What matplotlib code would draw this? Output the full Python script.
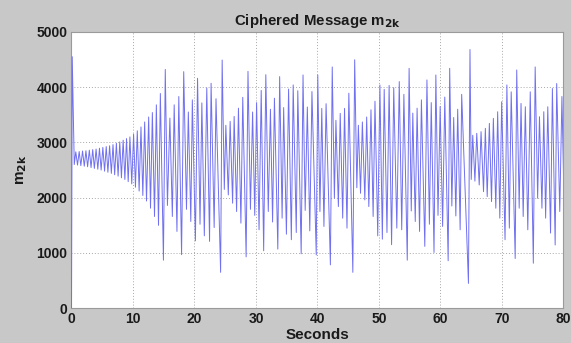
"""Ciphered message m_2k plot, MATLAB-like figure style."""

import matplotlib
matplotlib.use("Agg")
import matplotlib.pyplot as plt
import numpy as np

# ── Colors ─────────────────────────────────────────────────────────
C_FIG = "#c8c8c8"
C_LINE = "#7070f0"
C_GRID = "#a8a8a8"
C_TEXT = "#1a1a1a"

# ── Data (extrema) ─────────────────────────────────────────────────
# start-up transient
start_t = [0.0, 0.12, 0.45]
start_v = [0, 4550, 2600]

peak_t = [0.70, 1.25, 1.80, 2.35, 2.90, 3.45, 4.00, 4.55, 5.10, 5.65, 6.20, 6.75,
          7.30, 7.85, 8.40, 8.95, 9.50, 10.10, 10.70, 11.30, 11.90, 12.55, 13.15,
          13.80, 14.45,
          15.25, 16.00, 16.70, 17.45, 18.25, 19.00, 19.65, 20.50, 21.20, 22.00,
          22.70, 23.50, 24.50, 25.10, 25.80, 26.45, 27.15, 27.85, 28.70, 29.45,
          30.10, 30.85, 31.60, 32.35, 33.00, 33.85, 34.50, 35.30, 36.05, 36.80,
          37.65, 38.35, 39.10, 40.05, 40.70, 41.40, 42.40, 43.00, 43.70, 44.40,
          45.10, 46.05, 46.65, 47.30, 48.00, 48.70, 49.35, 50.15, 50.85, 51.65,
          52.40, 53.30, 54.05, 54.90, 55.50, 56.20, 56.90, 57.80, 58.50, 59.25,
          59.95, 60.70, 61.50, 62.15, 62.80, 63.45, 64.80, 65.25, 65.90, 66.60,
          67.30, 67.95, 68.60, 69.30, 69.95, 70.80, 71.50, 72.40, 73.10, 73.80,
          74.60, 75.40, 76.10, 76.80, 77.45, 78.20, 78.90, 79.75]
peak_v = [2830, 2835, 2845, 2850, 2860, 2870, 2880, 2895, 2910, 2925, 2940, 2960,
          2985, 3010, 3040, 3070, 3100, 3150, 3210, 3280, 3370, 3460, 3540,
          3680, 3885,
          4320, 3440, 3680, 3830, 4280, 3550, 3770, 4160, 3715, 3985,
          4070, 3790, 4490, 3310, 3380, 3470, 3620, 3815, 4285, 3550,
          3720, 3940, 4225, 3600, 3800, 4190, 3630, 3965, 4040, 3935,
          4220, 3640, 3920, 4220, 3615, 3700, 4365, 3400, 3525, 3615,
          3890, 4495, 3310, 3370, 3460, 3590, 3745, 4040, 3960, 4030,
          3990, 4100, 3870, 4340, 3530, 3620, 3770, 4130, 3720, 4220,
          3650, 3820, 4340, 3450, 3600, 3870, 4680, 3130, 3165, 3195,
          3255, 3345, 3435, 3555, 3735, 4040, 3915, 4310, 3705, 3645,
          3915, 4365, 3465, 3555, 3645, 3975, 4065, 3830]

trough_t = [0.98, 1.52, 2.08, 2.62, 3.18, 3.72, 4.28, 4.82, 5.38, 5.92, 6.48, 7.02,
            7.58, 8.12, 8.68, 9.22, 9.80, 10.40, 11.00, 11.60, 12.20, 12.85, 13.50,
            14.15, 14.95,
            15.60, 16.40, 17.15, 17.90, 18.70, 19.40, 20.15, 20.90, 21.60, 22.45,
            23.20, 24.25, 24.85, 25.50, 26.20, 26.85, 27.55, 28.40, 29.10, 29.80,
            30.50, 31.25, 32.00, 32.70, 33.55, 34.25, 34.95, 35.75, 36.55, 37.35,
            38.00, 38.75, 39.80, 40.40, 41.05, 42.10, 42.75, 43.40, 44.10, 44.80,
            45.75, 46.40, 47.00, 47.70, 48.35, 49.05, 49.80, 50.55, 51.30, 52.05,
            52.90, 53.70, 54.60, 55.25, 55.90, 56.60, 57.45, 58.20, 58.95, 59.60,
            60.35, 61.25, 61.85, 62.50, 63.20, 64.55, 65.00, 65.60, 66.30, 67.00,
            67.60, 68.30, 69.00, 69.65, 70.50, 71.20, 72.15, 72.80, 73.45, 74.20,
            75.10, 75.80, 76.50, 77.10, 77.90, 78.65, 79.40, 80.00]
trough_v = [2590, 2580, 2570, 2560, 2545, 2530, 2515, 2500, 2480, 2460, 2440, 2415,
            2390, 2360, 2330, 2290, 2250, 2190, 2120, 2040, 1940, 1810, 1660,
            1500, 870,
            1860, 1660, 1390, 970, 1790, 1570, 1220, 1520, 1310, 1210,
            1460, 650, 2150, 2050, 1900, 1750, 1540, 930, 1790, 1680,
            1420, 1040, 1750, 1560, 1070, 1630, 1340, 1240, 1370, 985,
            1770, 1400, 965, 1750, 1480, 785, 1990, 1840, 1630, 1450,
            650, 2180, 2080, 1960, 1840, 1660, 1310, 1250, 1370, 1150,
            1450, 1420, 870, 1760, 1570, 1390, 1120, 1520, 1010, 1680,
            1480, 860, 1850, 1670, 1420, 450, 2330, 2300, 2230, 2110,
            2020, 1930, 1810, 1630, 1240, 1450, 900, 1810, 1660, 1420,
            815, 1990, 1810, 1630, 1360, 1145, 1750, 2450]

x_ticks = [0, 10, 20, 30, 40, 50, 60, 70, 80]
y_ticks = [0, 1000, 2000, 3000, 4000, 5000]

# merge extrema into one time-ordered trace
t_all = np.concatenate([start_t, peak_t, trough_t])
v_all = np.concatenate([start_v, peak_v, trough_v])
order = np.argsort(t_all, kind="stable")
t_all, v_all = t_all[order], v_all[order]

plt.rcParams["font.family"] = ["Liberation Sans", "DejaVu Sans"]

fig = plt.figure(figsize=(5.71, 3.43), dpi=100, facecolor=C_FIG)
ax = fig.add_axes([0.1252, 0.1012, 0.8616, 0.806])
ax.set_facecolor("white")

ax.plot(t_all, v_all, color=C_LINE, linewidth=0.7, zorder=3)

ax.set_xlim(0, 80)
ax.set_ylim(0, 5000)
ax.set_xticks(x_ticks)
ax.set_yticks(y_ticks)
ax.tick_params(length=0, pad=3, labelsize=10, labelcolor=C_TEXT)
for lbl in ax.get_xticklabels() + ax.get_yticklabels():
    lbl.set_fontweight("bold")

ax.grid(True, linestyle=(0, (1, 2)), color=C_GRID, linewidth=0.7, zorder=1)
for s in ax.spines.values():
    s.set_color("#9a9a9a")
    s.set_linewidth(0.8)

ax.set_title("Ciphered Message m$_{\\mathbf{2k}}$", fontsize=10.8, fontweight="bold",
             color=C_TEXT, pad=5)
ax.set_xlabel("Seconds", fontsize=11, fontweight="bold", color=C_TEXT, labelpad=1)
ax.set_ylabel("m$_{\\mathbf{2k}}$", fontsize=11, fontweight="bold", color=C_TEXT, labelpad=5)

fig.savefig("out.png", dpi=100, facecolor=fig.get_facecolor())
